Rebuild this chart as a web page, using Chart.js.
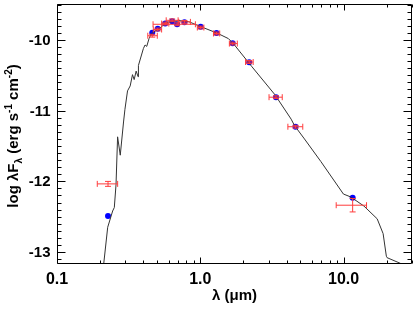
<!DOCTYPE html>
<html>
<head>
<meta charset="utf-8">
<script src="https://cdn.jsdelivr.net/npm/chart.js@4"></script>
<style>
  html, body { margin: 0; padding: 0; background: #fff; }
  #wrap { width: 416px; height: 311px; }
</style>
</head>
<body>
<div id="wrap"><canvas id="sedChart" width="416" height="311"></canvas></div>
<script>
'use strict';

// DATA
// ====
// model spectrum (wavelength in micron, log lambda F_lambda)
var modelWave = [0.205, 0.212, 0.2258, 0.2445, 0.2512, 0.2581, 0.2648, 0.2763, 0.2913, 0.2979,
    0.3105, 0.3241, 0.3363, 0.3455, 0.3566, 0.3682, 0.370, 0.4007, 0.4116, 0.4229,
    0.4386, 0.455, 0.5144, 0.5843, 0.7087, 0.830, 1.005, 1.303, 1.571, 1.70,
    2.275, 3.304, 4.305, 4.54, 5.33, 6.94, 9.97, 11.19, 13.86, 17.14,
    18.86, 19.87, 20.09, 24.83, 28.0];
var modelFlux = [-13.3, -13.16, -12.65, -12.42, -12.37, -12.05, -11.37, -11.63, -11.16, -10.98,
    -10.72, -10.65, -10.49, -10.56, -10.44, -10.52, -10.36, -10.12, -10.07, -10.09,
    -9.98, -9.91, -9.84, -9.75, -9.725, -9.74, -9.81, -9.90, -9.98, -10.05,
    -10.37, -10.77, -11.12, -11.21, -11.40, -11.72, -12.18, -12.22, -12.35, -12.53,
    -12.74, -13.06, -13.08, -13.16, -13.22];

// synthetic photometry from the model (blue dots)
var synWave = [0.227, 0.462, 0.504, 0.569, 0.636, 0.689, 0.775, 1.005, 1.297, 1.681, 2.193, 3.373, 4.617, 11.56];
var synFlux = [-12.49, -9.897, -9.841, -9.767, -9.735, -9.777, -9.749, -9.813, -9.902, -10.046, -10.315, -10.809, -11.227, -12.232];

// observed photometry (red error bars)
var obsWave   = [0.227, 0.462, 0.504, 0.569, 0.636, 0.689, 0.775, 1.005, 1.297, 1.681, 2.193, 3.373, 4.617, 11.56];
var obsWaveLo = [0.191, 0.430, 0.470, 0.537, 0.578, 0.468, 0.708, 0.953, 1.236, 1.595, 2.068, 3.017, 4.084, 8.874];
var obsWaveHi = [0.265, 0.501, 0.537, 0.603, 0.700, 0.924, 0.853, 1.059, 1.366, 1.812, 2.338, 3.730, 5.187, 14.45];
var obsFlux   = [-12.036, -9.939, -9.851, -9.767, -9.721, -9.777, -9.743, -9.823, -9.907, -10.05, -10.311, -10.809, -11.227, -12.338];
var obsFluxErr = [0.035, 0.02, 0.02, 0.02, 0.02, 0.02, 0.02, 0.02, 0.02, 0.02, 0.02, 0.02, 0.02, 0.095];

// axes
var xMin = 0.1, xMax = 30;
var yMin = -13.17, yMax = -9.49;
var xTickValues = [0.1, 1, 10];
var xTickLabels = ['0.1', '1.0', '10.0'];
var yTickValues = [-13, -12, -11, -10];
var yTickLabels = ['-13', '-12', '-11', '-10'];

var FONT = '"Liberation Sans", Arial, Helvetica, sans-serif';
var RED = 'rgb(255,60,60)';

// ERROR BARS
// ==========
var errorBarPlugin = {
    id: 'errorBars',
    afterDatasetDraw: function (chart, args) {
        if (args.index !== 0) return;
        var ctx = chart.ctx, xs = chart.scales.x, ys = chart.scales.y;
        ctx.save();
        ctx.strokeStyle = RED;
        ctx.lineWidth = 1;
        ctx.beginPath();
        for (var i = 0; i < obsWave.length; i++) {
            var x0 = xs.getPixelForValue(obsWaveLo[i]);
            var x1 = xs.getPixelForValue(obsWaveHi[i]);
            var xc = xs.getPixelForValue(obsWave[i]);
            var yc = ys.getPixelForValue(obsFlux[i]);
            var ya = ys.getPixelForValue(obsFlux[i] + obsFluxErr[i]);
            var yb = ys.getPixelForValue(obsFlux[i] - obsFluxErr[i]);
            // horizontal bar + end caps
            ctx.moveTo(x0, yc); ctx.lineTo(x1, yc);
            ctx.moveTo(x0, yc - 3); ctx.lineTo(x0, yc + 3);
            ctx.moveTo(x1, yc - 3); ctx.lineTo(x1, yc + 3);
            // vertical bar + end caps
            ctx.moveTo(xc, ya); ctx.lineTo(xc, yb);
            ctx.moveTo(xc - 3, ya); ctx.lineTo(xc + 3, ya);
            ctx.moveTo(xc - 3, yb); ctx.lineTo(xc + 3, yb);
        }
        ctx.stroke();
        ctx.restore();
    }
};

// FRAME, TICKS, LABELS
// ====================
var framePlugin = {
    id: 'frame',
    afterDraw: function (chart) {
        var ctx = chart.ctx, xs = chart.scales.x, ys = chart.scales.y;
        var a = chart.chartArea;
        var L = Math.round(a.left) + 0.5, R = Math.round(a.right) - 0.5;
        var T = Math.round(a.top) + 0.5, B = Math.round(a.bottom) - 0.5;
        ctx.save();
        ctx.strokeStyle = '#000';
        ctx.lineWidth = 1;
        ctx.beginPath();
        ctx.rect(L, T, R - L, B - T);

        // log x ticks, top and bottom
        for (var d = 0.1; d < xMax; d *= 10) {
            for (var m = 1; m <= 9; m++) {
                var v = d * m;
                if (v < xMin || v > xMax) continue;
                var px = Math.round(xs.getPixelForValue(v)) + 0.5;
                var len = (m === 1) ? 6 : 3;
                ctx.moveTo(px, B); ctx.lineTo(px, B - len);
                ctx.moveTo(px, T); ctx.lineTo(px, T + len);
            }
        }
        // linear y ticks, left and right
        for (var k = -132; k <= -95; k++) {
            var yv = k / 10;
            if (yv < yMin || yv > yMax) continue;
            var py = Math.round(ys.getPixelForValue(yv)) + 0.5;
            var ylen = (k % 10 === 0) ? 8 : 4;
            ctx.moveTo(L, py); ctx.lineTo(L + ylen, py);
            ctx.moveTo(R, py); ctx.lineTo(R - ylen, py);
        }
        ctx.stroke();

        ctx.fillStyle = '#000';
        ctx.font = 'bold 15px ' + FONT;
        ctx.textAlign = 'right';
        ctx.textBaseline = 'middle';
        yTickValues.forEach(function (v, i) {
            ctx.fillText(yTickLabels[i], L - 7, ys.getPixelForValue(v) + 1);
        });
        ctx.textAlign = 'center';
        ctx.textBaseline = 'top';
        ctx.font = 'bold 16px ' + FONT;
        xTickValues.forEach(function (v, i) {
            ctx.fillText(xTickLabels[i], xs.getPixelForValue(v), B + 8);
        });

        // x title
        ctx.font = 'bold 15px ' + FONT;
        ctx.fillText('\u03bb (\u03bcm)', (L + R) / 2, B + 25);

        // y title with sub/superscripts
        var parts = [
            { t: 'log \u03bbF', s: 15, dy: 0 },
            { t: '\u03bb', s: 10, dy: 4 },
            { t: ' (erg s', s: 15, dy: 0 },
            { t: '-1', s: 10, dy: -6 },
            { t: ' cm', s: 15, dy: 0 },
            { t: '-2', s: 10, dy: -6 },
            { t: ')', s: 15, dy: 0 }
        ];
        var total = 0;
        parts.forEach(function (p) {
            ctx.font = 'bold ' + p.s + 'px ' + FONT;
            p.w = ctx.measureText(p.t).width;
            total += p.w;
        });
        ctx.translate(18, (T + B) / 2 + 2);
        ctx.rotate(-Math.PI / 2);
        ctx.textAlign = 'left';
        ctx.textBaseline = 'alphabetic';
        var cx = -total / 2;
        parts.forEach(function (p) {
            ctx.font = 'bold ' + p.s + 'px ' + FONT;
            ctx.fillText(p.t, cx, p.dy);
            cx += p.w;
        });
        ctx.restore();
    }
};

var init = function () {
    var modelPts = modelWave.map(function (w, i) { return { x: w, y: modelFlux[i] }; });
    var synPts = synWave.map(function (w, i) { return { x: w, y: synFlux[i] }; });

    var ctx = document.getElementById('sedChart');
    new Chart(ctx, {
        type: 'scatter',
        data: {
            datasets: [{
                type: 'line',
                data: modelPts,
                borderColor: '#333',
                borderWidth: 1,
                pointRadius: 0,
                tension: 0,
                fill: false
            }, {
                data: synPts,
                backgroundColor: '#0000ff',
                borderWidth: 0,
                pointRadius: 3
            }]
        },
        options: {
            responsive: false,
            animation: false,
            layout: { padding: { left: 57, right: 1, top: 0, bottom: 47 } },
            plugins: {
                legend: { display: false },
                tooltip: { enabled: false }
            },
            scales: {
                x: { type: 'logarithmic', min: xMin, max: xMax, display: false },
                y: { type: 'linear', min: yMin, max: yMax, display: false }
            }
        },
        plugins: [errorBarPlugin, framePlugin]
    });
};

init();
</script>
</body>
</html>
